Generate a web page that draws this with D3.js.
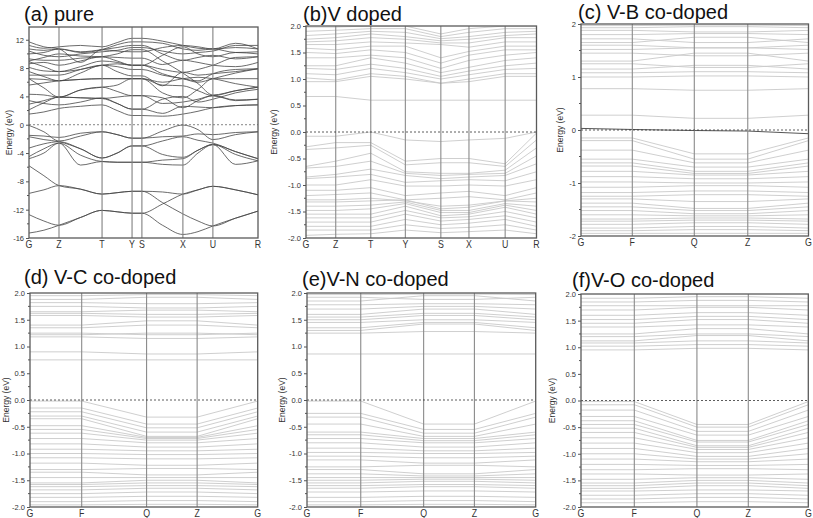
<!DOCTYPE html>
<html><head><meta charset="utf-8">
<script src="https://cdn.jsdelivr.net/npm/d3@7"></script>
<style>
body{margin:0;background:#fff;}
svg{display:block;font-family:"Liberation Sans",Arial,Helvetica,sans-serif;}
</style></head><body>
<svg id="chart" width="813" height="518"></svg>
<script>
// ---------------- DATA ----------------
// (a) pure
const aLabels = ["G","Z","T","Y","S","X","U","R"];
const aKpos = [0, 0.131, 0.319, 0.450, 0.493, 0.672, 0.803, 1.0];
const aKsample = [0, 0.065, 0.131, 0.225, 0.319, 0.385, 0.450, 0.493, 0.583, 0.672, 0.738, 0.803, 0.902, 1.0];
const aYTicks = [-16,-12,-8,-4,0,4,8,12];
const aValence = [
  [-0.1,-1.0,-2.3,-1.6,-1.0,-1.4,-1.9,-1.9,-0.9,-0.05,-0.7,-2.1,-1.4,-1.0],
  [-1.5,-1.6,-1.8,-1.2,-1.0,-1.4,-1.9,-1.9,-1.7,-1.6,-1.3,-1.4,-1.1,-1.0],
  [-1.7,-2.1,-2.4,-3.4,-4.7,-4.0,-3.0,-3.0,-2.3,-1.7,-2.2,-2.6,-3.8,-4.8],
  [-3.3,-2.7,-2.4,-3.4,-4.7,-4.0,-3.0,-3.0,-4.2,-4.6,-3.6,-2.8,-3.8,-4.8],
  [-4.5,-3.4,-2.6,-4.3,-5.2,-5.3,-5.3,-5.3,-5.0,-4.8,-3.6,-2.8,-4.2,-5.1],
  [-4.8,-4.0,-2.6,-5.7,-5.2,-5.3,-5.3,-5.3,-5.6,-5.7,-4.0,-2.8,-5.6,-5.1],
  [-5.8,-7.2,-8.6,-9.1,-9.8,-9.6,-9.4,-9.4,-11.0,-12.6,-13.6,-14.3,-13.2,-12.2],
  [-9.7,-9.2,-8.6,-9.1,-9.8,-9.6,-9.4,-9.4,-9.5,-9.8,-9.2,-8.7,-9.2,-9.9],
  [-12.7,-13.6,-14.2,-13.1,-12.1,-12.3,-12.5,-12.5,-11.2,-9.8,-9.2,-8.7,-9.2,-9.9],
  [-15.3,-14.9,-14.2,-13.1,-12.1,-12.3,-12.5,-12.5,-14.2,-15.5,-15.1,-14.3,-13.2,-12.2]
];
const aConduction = [
  [1.5,1.8,2.3,2.6,2.8,2.0,1.3,1.3,1.2,1.5,1.9,2.4,2.7,2.8],
  [2.1,3.1,3.9,3.8,3.7,3.0,2.2,2.2,1.6,2.6,2.5,2.4,2.7,2.8],
  [2.9,3.4,3.9,3.8,3.7,3.9,4.1,4.1,3.0,3.2,3.6,4.1,3.4,3.6],
  [4.3,4.2,3.9,4.9,5.3,4.7,4.1,4.1,3.8,2.4,3.4,4.1,3.5,3.6],
  [6.5,5.2,3.9,4.9,5.3,5.6,6.5,6.5,5.6,5.5,4.8,4.1,4.8,5.3],
  [5.6,5.9,6.2,6.4,6.5,6.5,6.5,6.5,4.5,3.8,5.0,6.5,6.5,6.5],
  [6.5,6.4,6.2,6.4,6.5,6.5,6.5,6.5,6.0,6.5,6.7,6.5,5.8,5.3],
  [7.0,7.0,7.0,7.8,8.4,7.5,6.9,6.9,5.5,7.4,7.0,7.2,7.5,7.9],
  [8.1,7.6,7.5,7.8,8.4,8.6,8.4,8.4,7.2,6.5,6.2,7.2,7.8,7.9],
  [8.6,8.8,8.4,9.0,9.6,9.5,9.4,9.4,8.5,9.1,8.8,8.4,8.2,8.8],
  [9.3,9.1,9.1,9.4,9.6,10.0,10.6,10.6,9.0,7.3,5.8,4.2,4.8,5.3],
  [10.0,10.2,10.7,10.3,10.6,10.9,11.2,11.2,10.0,9.1,9.5,9.8,9.3,9.6],
  [10.7,10.5,10.7,10.2,10.6,11.3,11.7,11.7,11.5,10.7,10.5,10.7,10.2,10.3],
  [11.2,10.8,11.0,11.2,11.0,11.6,12.2,12.2,11.8,11.2,10.8,10.7,11.5,10.7],
  [11.7,11.0,10.7,8.8,10.6,10.4,10.3,10.3,10.9,11.2,11.0,10.7,10.9,10.7],
  [7.5,6.8,6.2,7.3,8.4,8.2,7.8,7.8,7.0,6.5,6.0,6.5,7.3,7.9],
  [9.0,9.5,10.0,9.7,9.6,9.0,8.4,8.4,7.8,7.4,7.8,8.4,9.5,9.6],
  [8.9,8.2,7.5,8.2,9.0,8.8,8.4,8.4,9.8,11.0,10.0,9.6,10.2,10.0],
  [10.4,9.8,9.6,10.0,10.3,10.5,10.9,10.9,10.4,10.0,10.2,10.4,11.2,11.2],
  [3.4,3.0,2.8,3.2,3.8,3.0,2.2,2.2,3.6,4.0,3.2,3.6,4.5,5.0]
];

// (b) V doped
const bLabels = ["G","Z","T","Y","S","X","U","R"];
const bKpos = [0, 0.129, 0.281, 0.431, 0.585, 0.707, 0.864, 1.0];
const bBands = [
  [0.67,0.67,0.60,0.60,0.60,0.60,0.60,0.60],
  [0.95,0.95,1.05,1.00,0.92,0.95,1.05,1.05],
  [1.02,0.98,1.10,1.05,0.92,1.00,1.10,1.10],
  [1.10,1.08,1.20,1.12,1.00,1.08,1.18,1.20],
  [1.20,1.18,1.28,1.20,1.05,1.15,1.25,1.30],
  [1.25,1.25,1.40,1.30,1.12,1.22,1.35,1.40],
  [1.40,1.40,1.45,1.40,1.20,1.35,1.45,1.50],
  [1.50,1.48,1.55,1.50,1.30,1.45,1.55,1.55],
  [1.58,1.55,1.62,1.62,1.40,1.52,1.62,1.62],
  [1.65,1.65,1.70,1.68,1.65,1.60,1.70,1.70],
  [1.70,1.72,1.78,1.75,1.68,1.68,1.78,1.78],
  [1.75,1.78,1.85,1.80,1.72,1.75,1.82,1.85],
  [1.82,1.85,1.90,1.88,1.76,1.80,1.88,1.90],
  [1.90,1.92,1.95,1.95,1.80,1.88,1.95,1.95],
  [1.98,1.98,2.00,2.00,1.85,1.95,2.00,2.00],
  [-0.08,-0.08,0.00,-0.15,-0.18,-0.15,-0.12,0.00],
  [-0.28,-0.20,-0.20,-0.55,-0.50,-0.50,-0.60,-0.02],
  [-0.33,-0.30,-0.25,-0.62,-0.58,-0.58,-0.65,-0.15],
  [-0.65,-0.55,-0.40,-0.75,-0.78,-0.78,-0.72,-0.30],
  [-0.68,-0.65,-0.55,-0.78,-0.82,-0.80,-0.78,-0.45],
  [-0.85,-0.80,-0.70,-0.82,-0.88,-0.85,-0.82,-0.60],
  [-0.88,-0.85,-0.80,-0.95,-0.92,-0.90,-0.92,-0.75],
  [-1.00,-1.00,-0.90,-1.02,-1.02,-1.00,-1.02,-0.90],
  [-1.10,-1.10,-1.05,-1.20,-1.15,-1.12,-1.20,-1.05],
  [-1.20,-1.18,-1.15,-1.28,-1.25,-1.22,-1.28,-1.15],
  [-1.28,-1.28,-1.25,-1.30,-1.40,-1.38,-1.30,-1.25],
  [-1.32,-1.32,-1.30,-1.28,-1.45,-1.42,-1.30,-1.32],
  [-1.40,-1.40,-1.38,-1.32,-1.48,-1.48,-1.35,-1.40],
  [-1.48,-1.48,-1.45,-1.35,-1.52,-1.52,-1.38,-1.48],
  [-1.55,-1.55,-1.55,-1.40,-1.58,-1.55,-1.42,-1.55],
  [-1.62,-1.62,-1.62,-1.48,-1.62,-1.60,-1.50,-1.62],
  [-1.70,-1.70,-1.70,-1.55,-1.68,-1.65,-1.58,-1.70],
  [-1.78,-1.78,-1.78,-1.65,-1.75,-1.72,-1.65,-1.78],
  [-1.85,-1.85,-1.85,-1.75,-1.82,-1.80,-1.75,-1.85],
  [-1.95,-1.93,-1.92,-1.85,-1.90,-1.88,-1.85,-1.92]
];

// (c)-(f) co-doped: path G-F-Q-Z-G
const coLabels = ["G","F","Q","Z","G"];
const cKpos = [0, 0.2255, 0.498, 0.733, 1.0];
const dKpos = [0, 0.227, 0.512, 0.734, 1.0];
const eKpos = [0, 0.235, 0.510, 0.732, 1.0];
const fKpos = [0, 0.2345, 0.510, 0.736, 1.0];
const fineYTicks = [-2,-1.5,-1,-0.5,0,0.5,1,1.5,2];
const cYTicks = [-2,-1,0,1,2];

const cFermiBand = [0.03,0.01,-0.01,-0.02,-0.07];
const cBands = [
  [0.28,0.28,0.22,0.22,0.28],[0.78,0.78,0.75,0.75,0.78],[1.00,1.00,1.02,1.02,1.00],
  [1.08,1.08,1.10,1.10,1.08],[1.15,1.15,1.22,1.22,1.15],[1.25,1.25,1.18,1.18,1.25],
  [1.30,1.30,1.45,1.45,1.30],[1.45,1.45,1.40,1.40,1.45],[1.52,1.52,1.55,1.55,1.52],
  [1.60,1.60,1.55,1.55,1.60],[1.65,1.65,1.75,1.75,1.65],[1.72,1.72,1.65,1.65,1.72],
  [1.80,1.80,1.82,1.82,1.80],[1.88,1.88,1.85,1.85,1.88],[1.93,1.93,1.95,1.95,1.93],
  [1.97,1.97,1.98,1.98,1.97],
  [-0.15,-0.15,-0.45,-0.45,-0.15],[-0.20,-0.20,-0.55,-0.55,-0.20],[-0.38,-0.38,-0.62,-0.62,-0.38],
  [-0.55,-0.55,-0.70,-0.70,-0.55],[-0.62,-0.62,-0.78,-0.78,-0.62],[-0.68,-0.68,-0.82,-0.82,-0.68],
  [-0.78,-0.78,-0.85,-0.85,-0.78],[-0.88,-0.88,-0.92,-0.92,-0.88],[-0.98,-0.98,-1.00,-1.00,-0.98],
  [-1.08,-1.08,-1.05,-1.05,-1.08],[-1.18,-1.18,-1.15,-1.15,-1.18],[-1.25,-1.25,-1.22,-1.22,-1.25],
  [-1.30,-1.30,-1.35,-1.35,-1.30],[-1.38,-1.38,-1.48,-1.48,-1.38],[-1.45,-1.45,-1.52,-1.52,-1.45],
  [-1.52,-1.52,-1.58,-1.58,-1.52],[-1.60,-1.60,-1.62,-1.62,-1.60],[-1.68,-1.68,-1.66,-1.66,-1.68],
  [-1.72,-1.72,-1.70,-1.70,-1.72],[-1.78,-1.78,-1.75,-1.75,-1.78],[-1.85,-1.85,-1.82,-1.82,-1.85],
  [-1.90,-1.90,-1.88,-1.88,-1.90],[-1.95,-1.95,-1.95,-1.95,-1.95]
];
const dBands = [
  [0.75,0.75,0.75,0.75,0.75],[0.90,0.90,0.86,0.86,0.90],[1.18,1.18,1.15,1.15,1.18],
  [1.22,1.22,1.25,1.25,1.22],[1.25,1.25,1.22,1.22,1.25],[1.35,1.35,1.40,1.40,1.35],
  [1.40,1.40,1.48,1.48,1.40],[1.58,1.58,1.55,1.55,1.58],[1.62,1.62,1.60,1.60,1.62],
  [1.65,1.65,1.68,1.68,1.65],[1.75,1.75,1.72,1.72,1.75],[1.82,1.82,1.80,1.80,1.82],
  [1.88,1.88,1.92,1.92,1.88],[1.95,1.95,1.97,1.97,1.95],
  [-0.02,-0.02,-0.32,-0.32,-0.02],[-0.15,-0.15,-0.45,-0.45,-0.15],[-0.22,-0.22,-0.52,-0.52,-0.22],
  [-0.30,-0.30,-0.60,-0.60,-0.30],[-0.35,-0.35,-0.68,-0.68,-0.35],[-0.48,-0.48,-0.70,-0.70,-0.48],
  [-0.55,-0.55,-0.72,-0.72,-0.55],[-0.62,-0.62,-0.75,-0.75,-0.62],[-0.72,-0.72,-0.80,-0.80,-0.72],
  [-0.82,-0.82,-0.88,-0.88,-0.82],[-0.92,-0.92,-0.95,-0.95,-0.92],[-1.00,-1.00,-1.02,-1.02,-1.00],
  [-1.08,-1.08,-1.10,-1.10,-1.08],[-1.18,-1.18,-1.22,-1.22,-1.18],[-1.30,-1.30,-1.28,-1.28,-1.30],
  [-1.35,-1.35,-1.40,-1.40,-1.35],[-1.45,-1.45,-1.45,-1.45,-1.45],[-1.55,-1.55,-1.50,-1.50,-1.55],
  [-1.58,-1.58,-1.55,-1.55,-1.58],[-1.62,-1.62,-1.60,-1.60,-1.62],[-1.68,-1.68,-1.65,-1.65,-1.68],
  [-1.75,-1.75,-1.72,-1.72,-1.75],[-1.82,-1.82,-1.80,-1.80,-1.82],[-1.90,-1.90,-1.88,-1.88,-1.90],
  [-1.96,-1.96,-1.95,-1.95,-1.96]
];
const eBands = [
  [0.86,0.86,0.86,0.86,0.86],[1.25,1.25,1.28,1.28,1.25],[1.30,1.30,1.42,1.42,1.30],
  [1.35,1.35,1.45,1.45,1.35],[1.45,1.45,1.50,1.50,1.45],[1.50,1.50,1.58,1.58,1.50],
  [1.55,1.55,1.62,1.62,1.55],[1.60,1.60,1.70,1.70,1.60],[1.70,1.70,1.75,1.75,1.70],
  [1.78,1.78,1.80,1.80,1.78],[1.85,1.85,1.95,1.95,1.85],[1.92,1.92,1.88,1.88,1.92],
  [1.97,1.97,1.98,1.98,1.97],
  [-0.02,-0.02,-0.45,-0.45,-0.02],[-0.25,-0.25,-0.55,-0.55,-0.25],[-0.32,-0.32,-0.62,-0.62,-0.32],
  [-0.45,-0.45,-0.68,-0.68,-0.45],[-0.60,-0.60,-0.72,-0.72,-0.60],[-0.65,-0.65,-0.76,-0.76,-0.65],
  [-0.72,-0.72,-0.80,-0.80,-0.72],[-0.80,-0.80,-0.88,-0.88,-0.80],[-0.90,-0.90,-0.95,-0.95,-0.90],
  [-0.98,-0.98,-1.00,-1.00,-0.98],[-1.05,-1.05,-1.08,-1.08,-1.05],[-1.12,-1.12,-1.18,-1.18,-1.12],
  [-1.25,-1.25,-1.22,-1.22,-1.25],[-1.30,-1.30,-1.38,-1.38,-1.30],[-1.38,-1.38,-1.42,-1.42,-1.38],
  [-1.45,-1.45,-1.45,-1.45,-1.45],[-1.50,-1.50,-1.48,-1.48,-1.50],[-1.55,-1.55,-1.52,-1.52,-1.55],
  [-1.60,-1.60,-1.58,-1.58,-1.60],[-1.65,-1.65,-1.62,-1.62,-1.65],[-1.72,-1.72,-1.70,-1.70,-1.72],
  [-1.82,-1.82,-1.80,-1.80,-1.82],[-1.90,-1.90,-1.88,-1.88,-1.90],[-1.96,-1.96,-1.95,-1.95,-1.96]
];
const fBands = [
  [0.95,0.95,0.98,0.98,0.95],[1.02,1.02,1.05,1.05,1.02],[1.08,1.08,1.12,1.12,1.08],
  [1.12,1.12,1.22,1.22,1.12],[1.20,1.20,1.25,1.25,1.20],[1.25,1.25,1.35,1.35,1.25],
  [1.38,1.38,1.42,1.42,1.38],[1.45,1.45,1.52,1.52,1.45],[1.52,1.52,1.58,1.58,1.52],
  [1.60,1.60,1.65,1.65,1.60],[1.70,1.70,1.75,1.75,1.70],[1.78,1.78,1.78,1.78,1.78],
  [1.85,1.85,1.88,1.88,1.85],[1.92,1.92,1.95,1.95,1.92],
  [-0.02,-0.02,-0.45,-0.45,-0.02],[-0.08,-0.08,-0.50,-0.50,-0.08],[-0.18,-0.18,-0.58,-0.58,-0.18],
  [-0.30,-0.30,-0.65,-0.65,-0.30],[-0.38,-0.38,-0.75,-0.75,-0.38],[-0.45,-0.45,-0.78,-0.78,-0.45],
  [-0.52,-0.52,-0.85,-0.85,-0.52],[-0.60,-0.60,-0.88,-0.88,-0.60],[-0.70,-0.70,-0.92,-0.92,-0.70],
  [-0.80,-0.80,-0.98,-0.98,-0.80],[-0.90,-0.90,-1.05,-1.05,-0.90],[-1.00,-1.00,-1.10,-1.10,-1.00],
  [-1.10,-1.10,-1.15,-1.15,-1.10],[-1.20,-1.20,-1.22,-1.22,-1.20],[-1.30,-1.30,-1.28,-1.28,-1.30],
  [-1.38,-1.38,-1.40,-1.40,-1.38],[-1.48,-1.48,-1.45,-1.45,-1.48],[-1.55,-1.55,-1.50,-1.50,-1.55],
  [-1.60,-1.60,-1.55,-1.55,-1.60],[-1.65,-1.65,-1.60,-1.60,-1.65],[-1.70,-1.70,-1.68,-1.68,-1.70],
  [-1.78,-1.78,-1.75,-1.75,-1.78],[-1.85,-1.85,-1.82,-1.82,-1.85],[-1.92,-1.92,-1.90,-1.90,-1.92]
];

// ---------------- DRAWING ----------------
const svg = d3.select("#chart");
const fmt1 = d => d.toFixed(1);
const fmt0 = d => String(d);

const panels = [
  {id:"a", title:"(a) pure", tx:24, ty:21, box:[29,258,27,238], ydom:[-16,13.8], ticks:aYTicks, minorStep:2, fmt:fmt0,
   labels:aLabels, kpos:aKpos, ksample:aKsample, bands:aValence.concat(aConduction), dark:true, ylx:10},
  {id:"b", title:"(b)V doped", tx:303, ty:21, box:[306,536.5,26,238], ydom:[-2,2], ticks:fineYTicks, minorStep:0.25, fmt:fmt1,
   labels:bLabels, kpos:bKpos, ksample:bKpos, bands:bBands, ylx:275},
  {id:"c", title:"(c) V-B co-doped", tx:578, ty:18.5, box:[581,808.5,24,236], ydom:[-2,2], ticks:cYTicks, minorStep:0.5, fmt:fmt0,
   labels:coLabels, kpos:cKpos, ksample:cKpos, bands:cBands, special:cFermiBand, ylx:561},
  {id:"d", title:"(d) V-C co-doped", tx:24, ty:284, box:[30,257.7,293,507], ydom:[-2,2], ticks:fineYTicks, minorStep:0.25, fmt:fmt1,
   labels:coLabels, kpos:dKpos, ksample:dKpos, bands:dBands, ylx:7},
  {id:"e", title:"(e)V-N co-doped", tx:302, ty:286, box:[307,535.7,293,507], ydom:[-2,2], ticks:fineYTicks, minorStep:0.25, fmt:fmt1,
   labels:coLabels, kpos:eKpos, ksample:eKpos, bands:eBands, ylx:283},
  {id:"f", title:"(f)V-O co-doped", tx:572, ty:287, box:[581,808.3,294,507], ydom:[-2,2], ticks:fineYTicks, minorStep:0.25, fmt:fmt1,
   labels:coLabels, kpos:fKpos, ksample:fKpos, bands:fBands, ylx:553}
];

panels.forEach(p => {
  const [x0,x1,y0,y1] = p.box;
  const x = d3.scaleLinear().domain([0,1]).range([x0,x1]);
  const y = d3.scaleLinear().domain(p.ydom).range([y1,y0]);
  const g = svg.append("g");

  g.append("clipPath").attr("id","clip-"+p.id)
    .append("rect").attr("x",x0).attr("y",y0).attr("width",x1-x0).attr("height",y1-y0);

  const line = d3.line()
    .x(d => x(d[0])).y(d => y(d[1]))
    .curve(p.dark ? d3.curveMonotoneX : d3.curveLinear);

  const bandG = g.append("g").attr("clip-path","url(#clip-"+p.id+")");
  bandG.selectAll("path.band").data(p.bands).join("path")
    .attr("class","band")
    .attr("d", b => line(b.map((e,i) => [p.ksample[i], e])))
    .attr("fill","none")
    .attr("stroke", p.dark ? "#454545" : "#c9c9c9")
    .attr("stroke-width", p.dark ? 0.8 : 0.9);

  // vertical high-symmetry lines
  g.selectAll("line.hs").data(p.kpos.slice(1,-1)).join("line")
    .attr("x1",d=>x(d)).attr("x2",d=>x(d)).attr("y1",y0).attr("y2",y1)
    .attr("stroke", p.dark ? "#808080" : "#8a8a8a").attr("stroke-width",1.1);

  // Fermi level
  g.append("line").attr("x1",x0).attr("x2",x1).attr("y1",y(0)).attr("y2",y(0))
    .attr("stroke", p.dark ? "#666" : "#333").attr("stroke-width",0.8)
    .attr("stroke-dasharray","2,2");

  if (p.special) {
    bandG.append("path")
      .attr("d", line(p.special.map((e,i)=>[p.ksample[i], e])))
      .attr("fill","none").attr("stroke","#555").attr("stroke-width",1);
  }

  // frame
  g.append("rect").attr("x",x0).attr("y",y0).attr("width",x1-x0).attr("height",y1-y0)
    .attr("fill","none").attr("stroke","#5a5a5a").attr("stroke-width",1.3);

  // y axis major ticks
  const ax = d3.axisLeft(y).tickValues(p.ticks).tickSize(3).tickPadding(2).tickFormat(p.fmt);
  const axG = g.append("g").attr("transform",`translate(${x0},0)`).call(ax);
  axG.select(".domain").remove();
  axG.selectAll(".tick line").attr("stroke","#555");
  axG.selectAll(".tick text").attr("font-size","7.5px").attr("fill","#333")
    .attr("font-family",'"Liberation Sans",Arial,sans-serif');

  // minor ticks
  const minor = d3.range(p.ydom[0], p.ydom[1]+1e-9, p.minorStep).filter(v => !p.ticks.some(t => Math.abs(t-v)<1e-9));
  g.selectAll("line.minor").data(minor).join("line")
    .attr("x1",x0-2).attr("x2",x0).attr("y1",d=>y(d)).attr("y2",d=>y(d))
    .attr("stroke","#555").attr("stroke-width",1);

  // x labels
  g.selectAll("text.hsl").data(p.kpos).join("text")
    .attr("transform",(d)=>`translate(${x(d)},${y1+10}) scale(0.8,1)`)
    .attr("text-anchor","middle").attr("font-size","11px").attr("fill","#333")
    .text((d,i)=>p.labels[i]);

  // y title
  g.append("text")
    .attr("transform",`translate(${p.ylx},${(y0+y1)/2}) rotate(-90)`)
    .attr("text-anchor","middle").attr("dominant-baseline","middle")
    .attr("font-size","8.5px").attr("fill","#333").text("Energy (eV)");

  // panel title
  g.append("text").attr("x",p.tx).attr("y",p.ty)
    .attr("font-size","20px").attr("fill","#111").text(p.title);
});
</script>
</body></html>
